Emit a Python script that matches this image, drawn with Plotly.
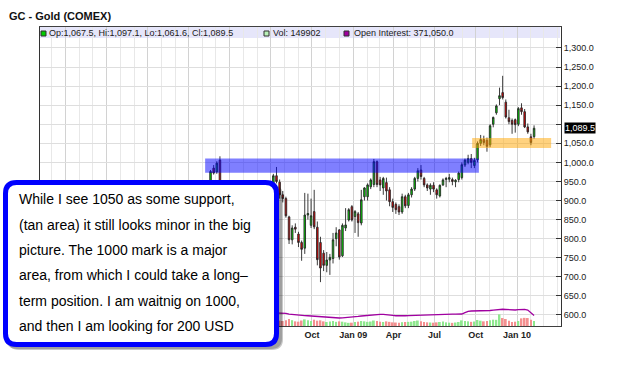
import plotly.graph_objects as go
import pandas as pd

# ---------------- data ----------------
first_week = "2008-01-07"
open_ = [862, 897, 882, 913, 909, 922, 928, 985, 975, 1006, 940, 925, 933, 905, 925, 915, 890, 855, 882, 890, 925, 887, 900, 872, 904, 930,
         935, 965, 948, 915, 905, 857, 797, 830, 812, 790, 775, 862, 835, 871, 830, 790, 762, 730, 744, 748, 800, 823, 755, 828, 849, 884,
         858, 865, 841, 910, 910, 936, 942, 1002, 954, 933, 947, 928, 897, 890, 884, 870, 910, 887, 915, 930, 958, 980, 958, 941, 930, 940,
         928, 912, 941, 955, 956, 955, 949, 955, 960, 993, 1000, 1010, 992, 1007, 1050, 1060, 1058, 1046, 1100, 1130, 1167, 1183, 1158, 1117, 1110, 1112,
         1100, 1143, 1133, 1093, 1067, 1067.5]
high = [905, 915, 930, 935, 925, 932, 980, 993, 1003, 1016, 950, 945, 935, 935, 940, 918, 892, 885, 893, 930, 928, 905, 902, 905, 935, 945,
        970, 988, 955, 925, 910, 860, 835, 840, 818, 795, 920, 918, 905, 928, 845, 805, 770, 765, 760, 815, 830, 825, 840, 880, 880, 888,
        875, 870, 928, 935, 945, 958, 1009, 1005, 962, 962, 960, 935, 905, 895, 890, 918, 915, 920, 935, 962, 985, 993, 962, 945, 945, 948,
        932, 942, 958, 962, 970, 960, 956, 976, 1000, 1010, 1020, 1022, 1012, 1055, 1072, 1070, 1065, 1100, 1120, 1152, 1196, 1227, 1165, 1138, 1115, 1115,
        1145, 1155, 1140, 1102, 1075, 1097.1]
low = [855, 870, 850, 905, 890, 905, 920, 968, 970, 930, 905, 905, 895, 900, 905, 880, 850, 850, 865, 885, 880, 860, 860, 865, 880, 918,
       925, 945, 905, 895, 855, 786, 785, 815, 778, 742, 760, 850, 828, 825, 730, 686, 715, 712, 705, 735, 780, 745, 752, 820, 845, 845,
       815, 805, 835, 900, 900, 930, 935, 935, 925, 915, 900, 885, 870, 865, 862, 865, 880, 880, 908, 925, 950, 955, 935, 925, 915, 922,
       905, 908, 938, 935, 948, 940, 935, 948, 955, 988, 995, 985, 985, 1000, 1043, 1045, 1028, 1040, 1092, 1125, 1150, 1165, 1115, 1100, 1075, 1078,
       1095, 1125, 1090, 1075, 1045, 1061.6]
close = [897, 882, 913, 909, 922, 928, 976, 972, 998, 940, 925, 933, 905, 925, 915, 890, 855, 882, 890, 925, 887, 900, 872, 904, 930, 933,
         965, 950, 915, 905, 860, 797, 828, 825, 790, 772, 862, 866, 860, 831, 745, 723, 730, 744, 751, 797, 815, 752, 835, 836, 876, 849,
         871, 842, 902, 933, 941, 954, 1002, 942, 941, 958, 925, 897, 882, 876, 870, 910, 886, 915, 930, 958, 978, 963, 941, 933, 940, 930,
         915, 940, 954, 958, 960, 950, 953, 972, 994, 1006, 1010, 1000, 1005, 1050, 1060, 1052, 1042, 1096, 1118, 1148, 1175, 1170, 1119, 1107, 1100, 1099,
         1141, 1133, 1093, 1080, 1052, 1089.5]
volume = [150000, 165000, 180000, 140000, 155000, 145000, 190000, 170000, 185000, 230000, 175000, 150000, 160000, 140000, 135000, 150000, 165000, 140000, 130000, 145000, 155000, 140000, 150000, 135000, 160000, 145000,
          155000, 180000, 160000, 150000, 170000, 210000, 175000, 140000, 130000, 165000, 200000, 175000, 150000, 190000, 160000, 170000, 140000, 120000, 135000, 150000, 125000, 140000, 130000, 110000, 95000, 100000,
          120000, 130000, 150000, 140000, 125000, 135000, 165000, 150000, 130000, 120000, 140000, 125000, 110000, 105000, 100000, 115000, 120000, 125000, 130000, 150000, 165000, 140000, 120000, 110000, 105000, 100000,
          110000, 120000, 135000, 110000, 100000, 95000, 105000, 120000, 170000, 150000, 140000, 125000, 135000, 180000, 160000, 140000, 150000, 175000, 190000, 185000, 350000, 240000, 210000, 160000, 120000, 130000,
          150000, 230000, 245000, 240000, 190000, 149902]
open_interest = [480000, 485000, 490000, 495000, 500000, 505000, 510000, 505000, 495000, 480000, 470000, 465000, 460000, 455000, 450000, 455000, 460000, 465000, 470000, 468000, 465000, 470000, 468000, 472000, 470000, 468000,
                 468000, 467000, 465000, 455000, 440000, 420000, 405000, 395000, 385000, 375000, 365000, 360000, 351000, 345000, 335000, 320000, 305000, 295000, 290000, 285000, 283000, 281000, 285000, 290000, 295000, 305000,
                 320000, 335000, 351000, 365000, 378000, 390000, 400000, 405000, 410000, 411000, 405000, 390000, 375000, 360000, 351000, 355000, 360000, 365000, 370000, 378000, 385000, 390000, 395000, 398000, 402000, 405000,
                 411000, 412000, 414000, 415000, 416000, 417000, 418000, 420000, 421000, 470000, 515000, 527000, 527000, 527000, 527000, 527000, 530000, 545000, 560000, 575000, 586000, 588000, 580000, 570000, 565000, 562000,
                 575000, 586000, 580000, 560000, 470000, 371050]

price_ticks = [600, 650, 700, 750, 800, 850, 900, 950, 1000, 1050, 1100, 1150, 1200, 1250, 1300]
# the 1,100.0 label is covered by the last-price tag in the original
price_labels = ["600.0", "650.0", "700.0", "750.0", "800.0", "850.0", "900.0", "950.0", "1,000.0", "1,050.0",
                "", "1,150.0", "1,200.0", "1,250.0", "1,300.0"]
quarter_ticks = ["2007-04-01", "2007-07-01", "2007-10-01", "2008-01-01", "2008-04-01", "2008-07-01",
                 "2008-10-01", "2009-01-01", "2009-04-01", "2009-07-01", "2009-10-01", "2010-01-01"]
# labels under the note box are hidden in the original
quarter_labels = ["", "", "", "", "", "Jul", "Oct", "Jan 09", "Apr", "Jul", "Oct", "Jan 10"]

resistance_zone = [973, 1010]
resistance_dates = ["2008-02-06", "2009-10-08"]
support_zone = [1038, 1064]
support_dates = ["2009-09-23", "2010-03-18"]

note_lines = ["While I see 1050 as some support,",
              "(tan area) it still looks minor in the big",
              "picture. The 1000 mark is a major",
              "area, from which I could take a long\u2013",
              "term position. I am waitnig on 1000,",
              "and then I am looking for 200 USD"]

# ---------------- geometry helpers ----------------
W, H = 625, 365
PL, PR, PT, PB = 40, 561, 27, 326


def px(x):
    return (x - PL) / (PR - PL)


def py(y):
    return (PB - y) / (PB - PT)


def rounded_path(x0, y0, x1, y1, r):
    pts = [("M", x0 + r, y0), ("L", x1 - r, y0), ("Q", x1, y0, x1, y0 + r), ("L", x1, y1 - r),
           ("Q", x1, y1, x1 - r, y1), ("L", x0 + r, y1), ("Q", x0, y1, x0, y1 - r), ("L", x0, y0 + r),
           ("Q", x0, y0, x0 + r, y0)]
    s = ""
    for p in pts:
        cmd = p[0]
        coords = p[1:]
        parts = []
        for i in range(0, len(coords), 2):
            parts.append(f"{px(coords[i]):.5f},{py(coords[i + 1]):.5f}")
        s += cmd + " " + " ".join(parts) + " "
    return s + "Z"


dates = pd.date_range(first_week, periods=len(close), freq="7D")
vol_colors = ["#8fe88f" if c >= o else "#f49090" for o, c in zip(open_, close)]

fig = go.Figure()
fig.add_trace(go.Bar(x=dates, y=volume, marker_color=vol_colors, marker_line_width=0,
                     width=4.0 * 86400000, yaxis="y2", hoverinfo="skip"))
fig.add_trace(go.Scatter(x=dates, y=open_interest, mode="lines", line=dict(color="#a000a0", width=1.3),
                         yaxis="y3", hoverinfo="skip"))
fig.add_trace(go.Candlestick(x=dates, open=open_, high=high, low=low, close=close,
                             increasing=dict(fillcolor="#00e400", line=dict(color="#262626", width=0.9)),
                             decreasing=dict(fillcolor="#f00000", line=dict(color="#262626", width=0.9)),
                             whiskerwidth=0, hoverinfo="skip"))

shapes = []
# legend bar
shapes.append(dict(type="rect", xref="paper", yref="paper", x0=0, x1=px(560), y0=py(38), y1=1,
                   fillcolor="#e6e6fa", line=dict(width=0), layer="below"))
for x0, col in [(41, "#00cc00"), (264, "#b8f0b8"), (344, "#a000a0")]:
    shapes.append(dict(type="rect", xref="paper", yref="paper", x0=px(x0), x1=px(x0 + 5), y0=py(36), y1=py(31),
                       fillcolor=col, line=dict(color="#303030", width=1), layer="above"))
# zones
shapes.append(dict(type="rect", xref="x", yref="y", x0=resistance_dates[0], x1=resistance_dates[1],
                   y0=resistance_zone[0], y1=resistance_zone[1], fillcolor="rgba(0,0,255,0.5)",
                   line=dict(width=0), layer="above"))
shapes.append(dict(type="rect", xref="x", yref="y", x0=support_dates[0], x1=support_dates[1],
                   y0=support_zone[0], y1=support_zone[1], fillcolor="rgba(255,165,0,0.5)",
                   line=dict(width=0), layer="above"))
# text box shadow + box
shapes.append(dict(type="path", xref="paper", yref="paper", path=rounded_path(8, 185, 283, 350, 11),
                   fillcolor="rgba(0,0,0,0.22)", line=dict(width=0), layer="above"))
shapes.append(dict(type="path", xref="paper", yref="paper", path=rounded_path(6, 187, 282, 349, 11),
                   fillcolor="rgba(0,0,0,0.2)", line=dict(width=0), layer="above"))
shapes.append(dict(type="path", xref="paper", yref="paper", path=rounded_path(5.5, 182.5, 276.5, 344.5, 11),
                   fillcolor="white", line=dict(color="#0000ff", width=5), layer="above"))

ann = []
ann.append(dict(text="<b>GC - Gold (COMEX)</b>", xref="paper", yref="paper", x=px(7), y=py(16),
                xanchor="left", yanchor="middle", showarrow=False,
                font=dict(family="Liberation Sans", size=11, color="#111111")))
ohlc_text = f"Op:{open_[-1]:,.1f}, Hi:{high[-1]:,.1f}, Lo:{low[-1]:,.1f}, Cl:{close[-1]:,.1f}"
for x0, t in [(47, ohlc_text), (271, f"Vol: {volume[-1]}"), (352, f"Open Interest: {open_interest[-1]:,.1f}")]:
    ann.append(dict(text=t, xref="paper", yref="paper", x=px(x0), y=py(33), xanchor="left", yanchor="middle",
                    showarrow=False, font=dict(family="Liberation Sans", size=9, color="#1a1a1a")))
ann.append(dict(text=f"{close[-1]:,.1f}", xref="paper", yref="y", x=px(564), y=close[-1], xanchor="left",
                yanchor="middle", showarrow=False, bgcolor="#000000", borderpad=0,
                font=dict(family="Liberation Sans", size=9, color="white")))
for i, line in enumerate(note_lines):
    ann.append(dict(text=line, xref="paper", yref="paper", x=px(17), y=py(199.5 + i * 25.3), xanchor="left",
                    yanchor="middle", showarrow=False,
                    font=dict(family="Liberation Sans", size=14, color="#000000")))

fig.update_layout(
    width=W, height=H, margin=dict(l=PL, r=W - PR, t=PT, b=H - PB),
    paper_bgcolor="white", plot_bgcolor="white", showlegend=False, hovermode=False,
    shapes=shapes, annotations=ann,
    xaxis=dict(type="date", range=["2007-02-03", "2010-04-09"], tickvals=quarter_ticks, ticktext=quarter_labels,
               showgrid=True, gridcolor="#d2d2d2", gridwidth=1,
               minor=dict(dtick="M1", tick0="2007-01-01", showgrid=True, gridcolor="#e8e8e8", gridwidth=1),
               showline=True, linecolor="#404040", linewidth=1, mirror=True, ticks="",
               tickfont=dict(family="Liberation Sans", size=9, color="#222222", weight="bold"),
               rangeslider=dict(visible=False), zeroline=False),
    yaxis=dict(side="right", range=[571, 1355], tickvals=price_ticks,
               ticktext=price_labels, ticks="inside", ticklen=5, tickcolor="#333333",
               showline=True, linecolor="#333333", linewidth=1, mirror=True,
               showgrid=True, gridcolor="#dedede", zeroline=False,
               tickfont=dict(family="Liberation Sans", size=9, color="#222222")),
    yaxis2=dict(overlaying="y", range=[0, 9.0e6], visible=False),
    yaxis3=dict(overlaying="y", range=[0, 10.5e6], visible=False),
)

fig.write_html("out.html")
